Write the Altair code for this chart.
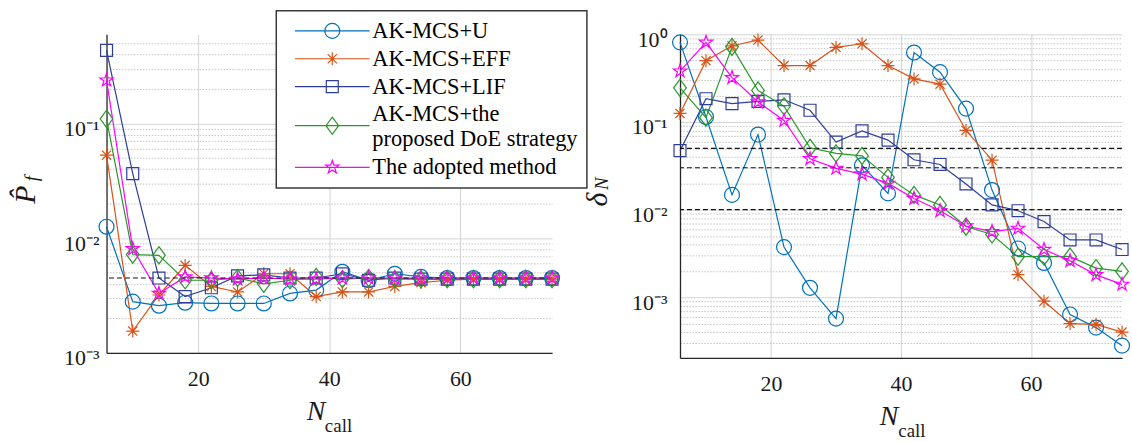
import math
import altair as alt
import pandas as pd

# ---------------- data ----------------
N_CALL = [6, 10, 14, 18, 22, 26, 30, 34, 38, 42, 46, 50, 54, 58, 62, 66, 70, 74]
METHODS = ["AK-MCS+U", "AK-MCS+EFF", "AK-MCS+LIF",
           "AK-MCS+the proposed DoE strategy", "The adopted method"]
COLORS = ["#0072BD", "#D95319", "#2E3D9B", "#2A962A", "#FF00FF"]

PF_U = [0.0126, 0.0028, 0.00258, 0.00274, 0.0027, 0.0027, 0.0027, 0.0033, 0.00353,
        0.0051, 0.0043, 0.0049, 0.0046, 0.0045, 0.0045, 0.0045, 0.0045, 0.0045]
PF_EFF = [0.053, 0.00155, 0.0032, 0.0058, 0.0038, 0.0034, 0.0049, 0.0049, 0.0031,
          0.0034, 0.0034, 0.0038, 0.0041, 0.0043, 0.0044, 0.0044, 0.0044, 0.0044]
PF_LIF = [0.435, 0.0366, 0.0045, 0.0031, 0.0037, 0.0047, 0.0048, 0.0045, 0.0045,
          0.0049, 0.0043, 0.0045, 0.0044, 0.0044, 0.0044, 0.0044, 0.0044, 0.0044]
PF_DOE = [0.11, 0.0072, 0.0071, 0.0043, 0.0043, 0.0045, 0.0040, 0.0043, 0.0046,
          0.0044, 0.0045, 0.0044, 0.0044, 0.0044, 0.0044, 0.0044, 0.0044, 0.0044]
PF_ADO = [0.239, 0.0081, 0.0033, 0.0046, 0.0045, 0.0044, 0.0045, 0.0044, 0.0044,
          0.0045, 0.0045, 0.0045, 0.0045, 0.0045, 0.0045, 0.0045, 0.0045, 0.0045]

D_U = [0.81, 0.114, 0.0147, 0.0718, 0.00373, 0.00128, 0.00057, 0.032, 0.0153,
       0.62, 0.37, 0.142, 0.0167, 0.0036, 0.00246, 0.000635, 0.00045, 0.00028]
D_EFF = [0.125, 0.50, 0.74, 0.86, 0.44, 0.44, 0.71, 0.78, 0.44,
         0.31, 0.27, 0.080, 0.0366, 0.00181, 0.0009, 0.0005, 0.00049, 0.0004]
D_LIF = [0.047, 0.184, 0.162, 0.172, 0.179, 0.136, 0.059, 0.079, 0.062,
         0.037, 0.0327, 0.0196, 0.0113, 0.0097, 0.0073, 0.0045, 0.0045, 0.0035]
D_DOE = [0.245, 0.112, 0.72, 0.229, 0.151, 0.0507, 0.0437, 0.041, 0.0233,
         0.0147, 0.0113, 0.0064, 0.0052, 0.0029, 0.0029, 0.0029, 0.00215, 0.00197]
D_ADO = [0.38, 0.81, 0.32, 0.169, 0.104, 0.038, 0.0295, 0.0254, 0.0199,
         0.0134, 0.0097, 0.0065, 0.0056, 0.0061, 0.0035, 0.0026, 0.0018, 0.0014]

PF_REF = [0.0045]
D_REF = [0.05, 0.03, 0.01]

X_TICKS = [20, 40, 60]
PF_MAJOR = [0.001, 0.01, 0.1]
PF_MAJOR_LABELS = ["10⁻³", "10⁻²", "10⁻¹"]
PF_MINOR = [0.002, 0.003, 0.004, 0.005, 0.006, 0.007, 0.008, 0.009,
            0.02, 0.03, 0.04, 0.05, 0.06, 0.07, 0.08, 0.09,
            0.2, 0.3, 0.4, 0.5]
D_MAJOR = [0.001, 0.01, 0.1, 1]
D_MAJOR_LABELS = ["10⁻³", "10⁻²", "10⁻¹", "10⁰"]
D_MINOR = [0.0003, 0.0004, 0.0005, 0.0006, 0.0007, 0.0008, 0.0009,
           0.002, 0.003, 0.004, 0.005, 0.006, 0.007, 0.008, 0.009,
           0.02, 0.03, 0.04, 0.05, 0.06, 0.07, 0.08, 0.09,
           0.2, 0.3, 0.4, 0.5, 0.6, 0.7, 0.8, 0.9]

# ---------------- styling helpers ----------------
FONT = "Liberation Serif"


def star_path(R, ratio=0.382):
    pts = []
    for k in range(10):
        r = R if k % 2 == 0 else R * ratio
        a = math.radians(-90 + 36 * k)
        pts.append(f"{r * math.cos(a):.3f},{r * math.sin(a):.3f}")
    return "M" + "L".join(pts) + "Z"


def asterisk_path(R):
    d = R * 0.7071
    return (f"M0,{-R}L0,{R}M{-R},0L{R},0"
            f"M{-d:.3f},{-d:.3f}L{d:.3f},{d:.3f}M{-d:.3f},{d:.3f}L{d:.3f},{-d:.3f}")


MARK_SHAPES = ["circle", asterisk_path(1.0), "square",
               "M0,-1.15L0.85,0L0,1.15L-0.85,0Z", star_path(1.0)]
MARK_SIZES = [225, 169, 144, 225, 196]

LINE = "M-5,0L5,0"
LEGEND_SHAPES = [
    LINE + "M1,0A1,1,0,1,1,-1,0A1,1,0,1,1,1,0",
    LINE + asterisk_path(0.87),
    LINE + "M-0.8,-0.8L0.8,-0.8L0.8,0.8L-0.8,0.8Z",
    # two-line entry: symbol sits between the two label lines
    "M-5,1.5L5,1.5M0,0.35L0.85,1.5L0,2.65L-0.85,1.5Z",
    LINE + star_path(0.93),
]

LEGEND = alt.Legend(
    title=None, orient="none", legendX=170.5, legendY=-23.7,
    direction="vertical", padding=9, fillColor="white", strokeColor="#3a3a3a",
    symbolSize=225, symbolStrokeWidth=1.2, symbolOffset=36, labelOffset=29,
    symbolFillColor="transparent",
    labelFont=FONT, labelFontSize=22.5, labelColor="black", labelLimit=600,
    rowPadding=5,
    labelExpr=("datum.label == 'AK-MCS+the proposed DoE strategy' ? "
               "['AK-MCS+the', 'proposed DoE strategy'] : datum.label"),
)


def label_expr(vals, labels):
    expr = "''"
    for v, l in zip(reversed(vals), reversed(labels)):
        expr = f"datum.value == {v} ? '{l}' : ({expr})"
    return expr


def grid_test(vals):
    return "indexof([" + ",".join(str(v) for v in vals) + "], datum.value) >= 0"


def make_panel(series, ref_vals, domain, major, major_labels, minor, width, height,
               ylab_pad, xlab_pad, ytitle, ysub, ypos, ysubpos, xpos, callpos,
               with_legend):
    rows = []
    for m, vals in zip(METHODS, series):
        for n, v in zip(N_CALL, vals):
            rows.append({"n": n, "method": m, "value": v})
    df = pd.DataFrame(rows)

    x_enc = alt.X("n:Q", scale=alt.Scale(domain=[6, 74], nice=False, zero=False),
                  axis=alt.Axis(values=X_TICKS, title=None, grid=True,
                                gridColor="#d4d4d4", gridWidth=1, tickSize=0,
                                labelPadding=xlab_pad, labelFont=FONT, labelFontSize=22,
                                labelColor="#1a1a1a", labelFlush=False,
                                domainColor="#262626", domainWidth=1.3))
    y_enc = alt.Y("value:Q",
                  scale=alt.Scale(type="log", domain=domain, nice=False),
                  axis=alt.Axis(values=major + minor, title=None, grid=True,
                                gridDash={"condition": {"test": grid_test(major), "value": []},
                                          "value": [1.5, 1.5]},
                                gridColor={"condition": {"test": grid_test(major), "value": "#d4d4d4"},
                                           "value": "#c4c4c4"},
                                gridWidth=1, tickSize=0, labelPadding=ylab_pad,
                                labelExpr=label_expr(major, major_labels),
                                labelFont=FONT, labelFontSize=22, labelColor="#1a1a1a",
                                labelOverlap=False, labelFlush=False, labelOffset=5,
                                domainColor="#262626", domainWidth=1.3))

    base = alt.Chart(df)
    layers = []
    for m, col in zip(METHODS, COLORS):
        layers.append(base.mark_line(strokeWidth=1.2, color=col)
                      .encode(x=x_enc, y=y_enc)
                      .transform_filter(alt.datum.method == m))
    ref_df = pd.DataFrame({"value": ref_vals})
    layers.append(alt.Chart(ref_df).mark_rule(color="#111111", strokeWidth=1.2,
                                               strokeDash=[5, 3])
                  .encode(y=y_enc))
    for m, col, shp, sz in zip(METHODS, COLORS, MARK_SHAPES, MARK_SIZES):
        layers.append(base.mark_point(shape=shp, size=sz, filled=False, strokeWidth=1.2,
                                      opacity=1, color=col)
                      .encode(x=x_enc, y=y_enc)
                      .transform_filter(alt.datum.method == m))
    if with_legend:
        layers.append(base.mark_point(filled=False, strokeWidth=1.2, opacity=1)
                      .encode(x=x_enc, y=y_enc,
                              color=alt.Color("method:N",
                                              scale=alt.Scale(domain=METHODS, range=COLORS),
                                              legend=LEGEND),
                              shape=alt.Shape("method:N",
                                              scale=alt.Scale(domain=METHODS, range=LEGEND_SHAPES),
                                              legend=LEGEND))
                      .transform_filter("datum.value < 0"))

    def txt(s, pos, size, italic, angle=0):
        d = pd.DataFrame({"t": [s]})
        kw = dict(font=FONT, fontSize=size, align="center", baseline="middle",
                  color="#1a1a1a")
        if italic:
            kw["fontStyle"] = "italic"
        if angle:
            kw["angle"] = angle
        return alt.Chart(d).mark_text(**kw).encode(
            x=alt.value(pos[0]), y=alt.value(pos[1]), text=alt.Text("t:N"))

    layers.append(txt(ytitle, ypos, 30, True, 270))
    layers.append(txt(ysub, ysubpos, 19, True, 270))
    layers.append(txt("N", xpos, 28, True))
    layers.append(txt("call", callpos, 19, False))

    return alt.layer(*layers).properties(width=width, height=height)


left = make_panel([PF_U, PF_EFF, PF_LIF, PF_DOE, PF_ADO], PF_REF, [0.001, 0.6],
                  PF_MAJOR, PF_MAJOR_LABELS, PF_MINOR, 447.5, 320,
                  7.5, 16, "P̂", "f", (-80.5, 161), (-75, 145),
                  (210.5, 379.5), (233, 393.5), True)
right = make_panel([D_U, D_EFF, D_LIF, D_DOE, D_ADO], D_REF, [0.000203, 1],
                   D_MAJOR, D_MAJOR_LABELS, D_MINOR, 444, 325,
                   13, 15.5, "δ", "N", (-82, 166), (-78, 150),
                   (210, 384), (233, 398), False)

chart = (alt.hconcat(left, right, spacing=128)
         .properties(bounds="flush",
                     padding={"left": 11, "top": 8.5, "right": 0, "bottom": 0},
                     background="white")
         .configure_view(strokeWidth=0)
         .configure_legend(strokeWidth=1.5))

chart.save("out.html", embed_options={"renderer": "svg", "actions": False})
